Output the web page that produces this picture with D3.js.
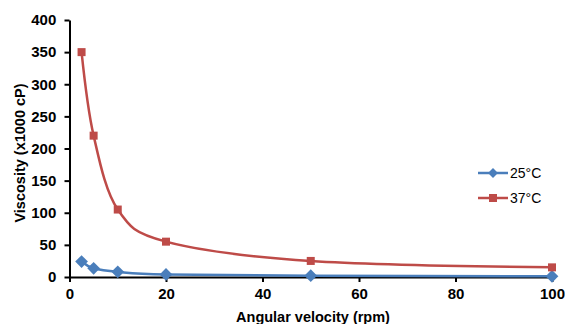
<!DOCTYPE html>
<html><head><meta charset="utf-8">
<script src="https://cdn.jsdelivr.net/npm/d3@7"></script>
<style>body{margin:0;background:#fff}svg{display:block}text{font-family:"Liberation Sans",Arial,sans-serif}</style>
</head><body><svg id="c" width="565" height="324"></svg>
<script>
const rpm = [2.5, 5, 10, 20, 50, 100];
const visc25 = [24, 13.5, 8, 4, 2, 1];
const visc37 = [350, 220, 105, 55, 25, 15];
const xTicks = [0, 20, 40, 60, 80, 100];
const yTicks = [0, 50, 100, 150, 200, 250, 300, 350, 400];
const seriesNames = ["25°C", "37°C"];
const colors = ["#4A7EBB", "#BE4B48"];

const svg = d3.select("#c");
const x = d3.scaleLinear().domain([0, 100]).range([69.5, 552]);
const y = d3.scaleLinear().domain([0, 400]).range([277, 20]);

const gx = svg.append("g").attr("transform", "translate(0,277)")
  .call(d3.axisBottom(x).tickValues(xTicks).tickSize(5).tickSizeOuter(0));
const gy = svg.append("g").attr("transform", "translate(69.5,0)")
  .call(d3.axisLeft(y).tickValues(yTicks).tickSize(5).tickSizeOuter(0));
[gx, gy].forEach(g => {
  g.selectAll("path,line").attr("stroke", "#000").attr("stroke-width", 2);
  g.selectAll("text").attr("font-size", 15).attr("font-weight", "bold").attr("fill", "#000");
});
gx.selectAll("text").attr("dy", "0.95em");
gy.selectAll("text").attr("dx", "-0.35em");

svg.append("text").attr("x", 313).attr("y", 322).attr("text-anchor", "middle")
  .attr("font-size", 14.5).attr("font-weight", "bold").text("Angular velocity (rpm)");
svg.append("text").attr("transform", "translate(25,153) rotate(-90)").attr("text-anchor", "middle")
  .attr("font-size", 14.5).attr("font-weight", "bold").text("Viscosity (x1000 cP)");

const line = d3.line().x(d => x(d[0])).y(d => y(d[1])).curve(d3.curveCardinal.tension(0));
const series = [visc25, visc37];
series.forEach((vals, i) => {
  const pts = rpm.map((r, j) => [r, vals[j]]);
  svg.append("path").attr("d", line(pts)).attr("fill", "none")
    .attr("stroke", colors[i]).attr("stroke-width", 2.5);
  if (i === 0) {
    svg.selectAll(null).data(pts).enter().append("path")
      .attr("transform", d => `translate(${x(d[0])},${y(d[1])}) rotate(45)`)
      .attr("d", "M-4.5,-4.5h9v9h-9z").attr("fill", colors[i]);
  } else {
    svg.selectAll(null).data(pts).enter().append("rect")
      .attr("x", d => x(d[0]) - 4).attr("y", d => y(d[1]) - 4)
      .attr("width", 8).attr("height", 8).attr("fill", colors[i]);
  }
});

const legY = [173, 198];
seriesNames.forEach((n, i) => {
  const g = svg.append("g");
  g.append("line").attr("x1", 478).attr("x2", 508).attr("y1", legY[i]).attr("y2", legY[i])
    .attr("stroke", colors[i]).attr("stroke-width", 2.5);
  if (i === 0) g.append("path").attr("transform", `translate(493,${legY[i]}) rotate(45)`)
    .attr("d", "M-3.5,-3.5h7v7h-7z").attr("fill", colors[i]);
  else g.append("rect").attr("x", 489).attr("y", legY[i] - 4).attr("width", 8).attr("height", 8).attr("fill", colors[i]);
  g.append("text").attr("x", 510).attr("y", legY[i] + 5).attr("font-size", 14).attr("fill", "#000").text(n);
});
</script></body></html>
